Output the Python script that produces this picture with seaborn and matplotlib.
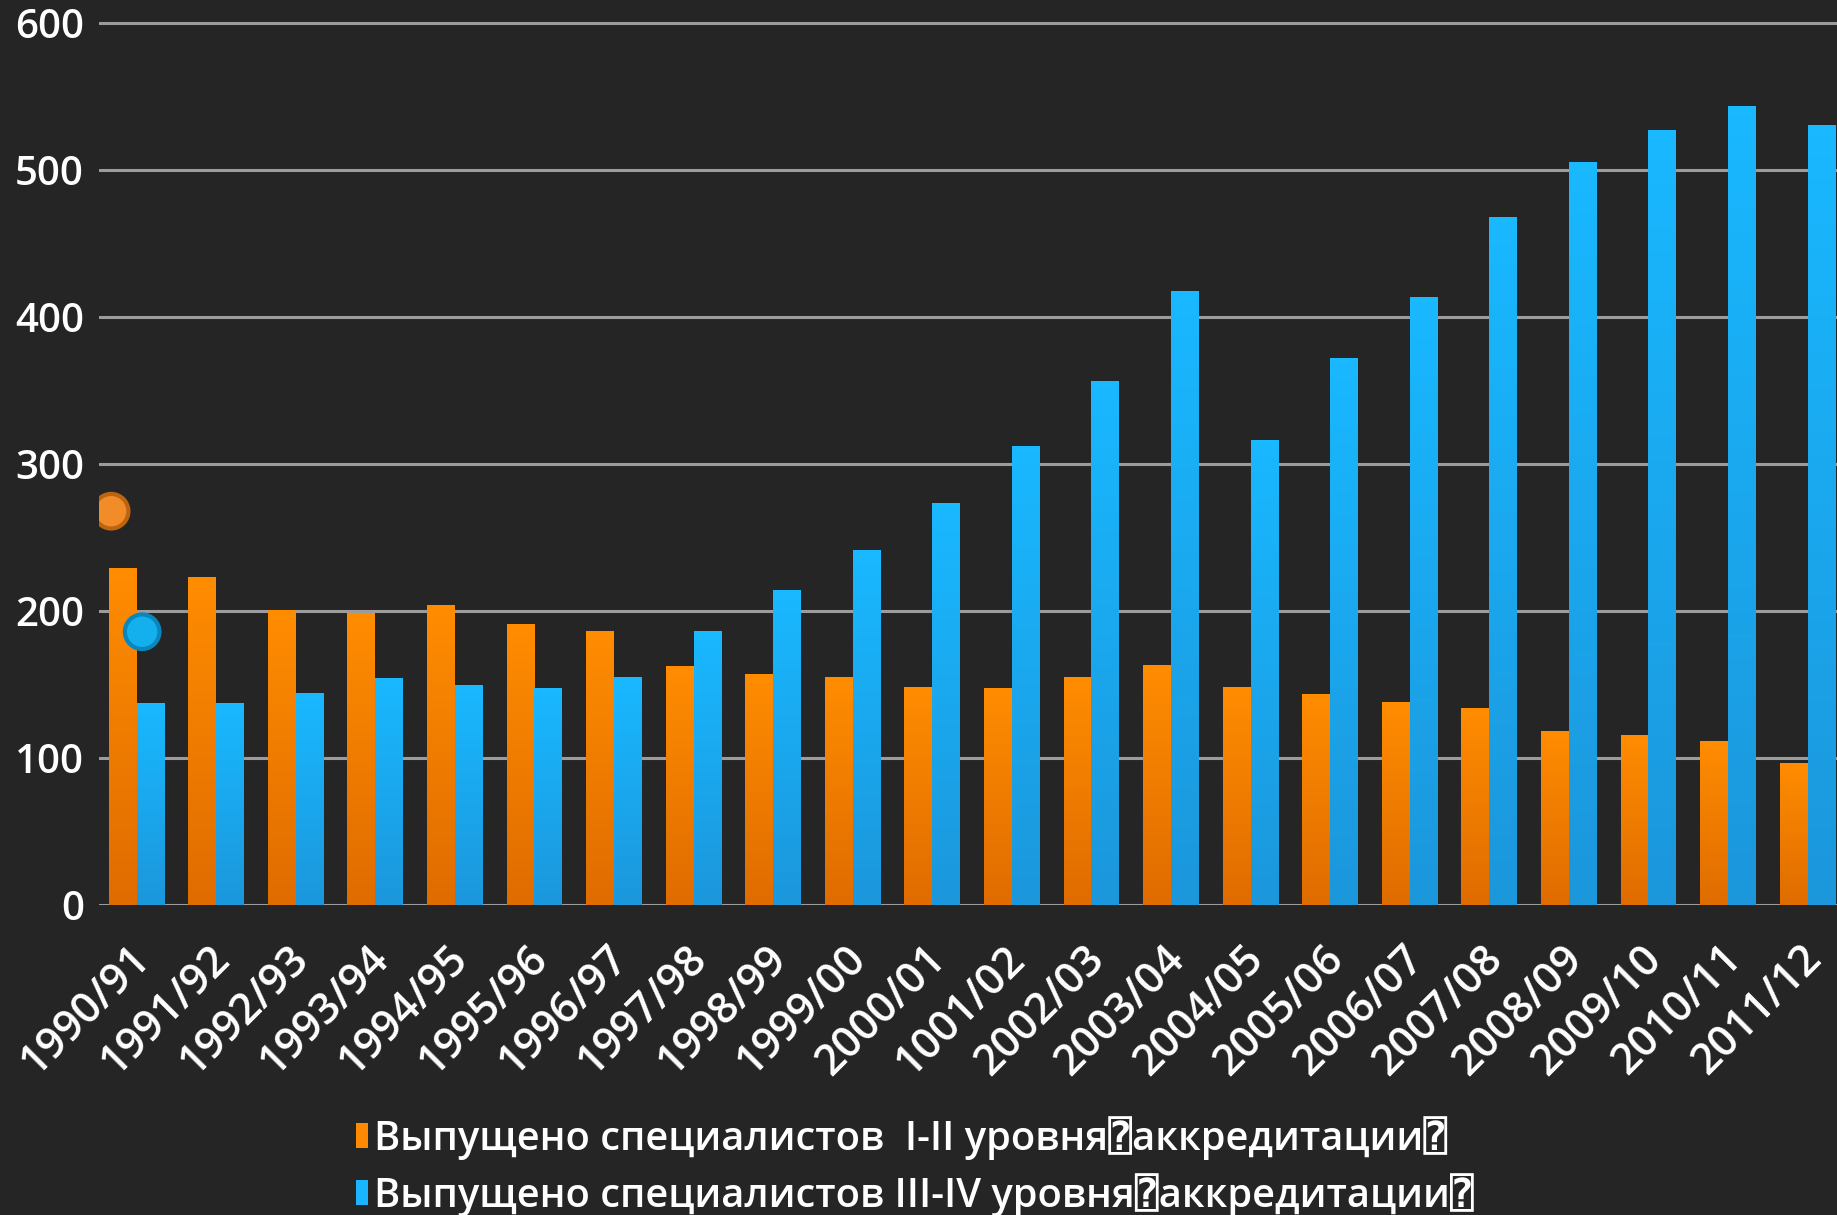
import numpy as np
import pandas as pd
import matplotlib
matplotlib.use('Agg')
import matplotlib.pyplot as plt
import matplotlib.transforms as mtransforms
from matplotlib.colors import LinearSegmentedColormap
import seaborn as sns

# values
years = ['1990/91', '1991/92', '1992/93', '1993/94', '1994/95', '1995/96',
         '1996/97', '1997/98', '1998/99', '1999/00', '2000/01', '1001/02',
         '2002/03', '2003/04', '2004/05', '2005/06', '2006/07', '2007/08',
         '2008/09', '2009/10', '2010/11', '2011/12']
level_1_2 = [229, 223, 200, 198, 204, 191, 186, 162, 157, 155, 148, 147,
             155, 163, 148, 143, 138, 134, 118, 115, 111, 96]
level_3_4 = [137, 137, 144, 154, 149, 147, 155, 186, 214, 241, 273, 312,
             356, 417, 316, 372, 413, 468, 505, 527, 543, 530]
series_names = ['Выпущено специалистов  I-II уровня⍰аккредитации⍰',
                'Выпущено специалистов III-IV уровня⍰аккредитации⍰']

# two stray dots near the first group
stray_x = [-0.32, 0.07]
stray_y = [268, 186]

df = pd.DataFrame({
    'year': years * 2,
    'value': level_1_2 + level_3_4,
    'series': [series_names[0]] * len(years) + [series_names[1]] * len(years),
})

sns.set_theme(style='dark')
plt.rcParams['font.family'] = ['Open Sans', 'DejaVu Sans', 'DejaVu Sans Mono']
plt.rcParams['font.weight'] = 'semibold'

bg = '#252525'
fig = plt.figure(figsize=(18.37, 12.15), dpi=100, facecolor=bg)
ax = fig.add_axes([0.054, 0.255, 0.946, 0.732], facecolor=bg)

palette = {series_names[0]: '#FF8A00', series_names[1]: '#19B5FF'}
sns.barplot(data=df, x='year', y='value', hue='series', palette=palette,
            width=0.7, saturation=1, ax=ax, zorder=2, linewidth=0)

# vertical gradient on each bar, brighter at the top
grad = np.linspace(1, 0, 64).reshape(-1, 1)
cmaps = {
    '#FF8A00': LinearSegmentedColormap.from_list('o', ['#E06C00', '#FF8C00']),
    '#19B5FF': LinearSegmentedColormap.from_list('b', ['#1C97DC', '#19B8FF']),
}
for bar in list(ax.patches):
    h = bar.get_height()
    if h <= 0:
        continue
    fc = matplotlib.colors.to_hex(bar.get_facecolor()).upper()
    cm = cmaps.get(fc)
    if cm is None:
        continue
    x0 = bar.get_x()
    ax.imshow(grad, extent=[x0, x0 + bar.get_width(), 0, h], aspect='auto',
              cmap=cm, vmin=0, vmax=1, zorder=2.5, interpolation='bilinear')

ax.scatter(stray_x, stray_y, s=620, c=['#F28C28', '#14B0EE'],
           edgecolors=['#BC640F', '#0A86BF'], linewidths=3, zorder=4)

ax.set_xlim(-0.47, len(years) - 1 + 0.37)
ax.set_ylim(0, 605)
ax.set_yticks(range(0, 700, 100))
ax.yaxis.grid(True, color='#9C9C9C', lw=2.2)
ax.xaxis.grid(False)
ax.set_axisbelow(True)
for s in ax.spines.values():
    s.set_visible(False)
ax.set_xlabel('')
ax.set_ylabel('')

ax.tick_params(axis='y', colors='white', labelsize=29, length=0, pad=11)
ax.tick_params(axis='x', colors='white', labelsize=31, length=0, pad=34)
shift = mtransforms.ScaledTranslation(5 / 72, 0, fig.dpi_scale_trans)
for lab in ax.get_xticklabels():
    lab.set_rotation(45)
    lab.set_ha('right')
    lab.set_va('center')
    lab.set_rotation_mode('anchor')
    lab.set_transform(lab.get_transform() + shift)

leg = ax.legend(loc='upper left', bbox_to_anchor=(0.183, 0.098),
                bbox_transform=fig.transFigure, frameon=False, fontsize=28.7,
                labelcolor='white', handlelength=0.3, handleheight=0.6,
                handletextpad=0.15, labelspacing=0.33, borderpad=0)

fig.savefig('out.png', dpi=100, facecolor=bg)
